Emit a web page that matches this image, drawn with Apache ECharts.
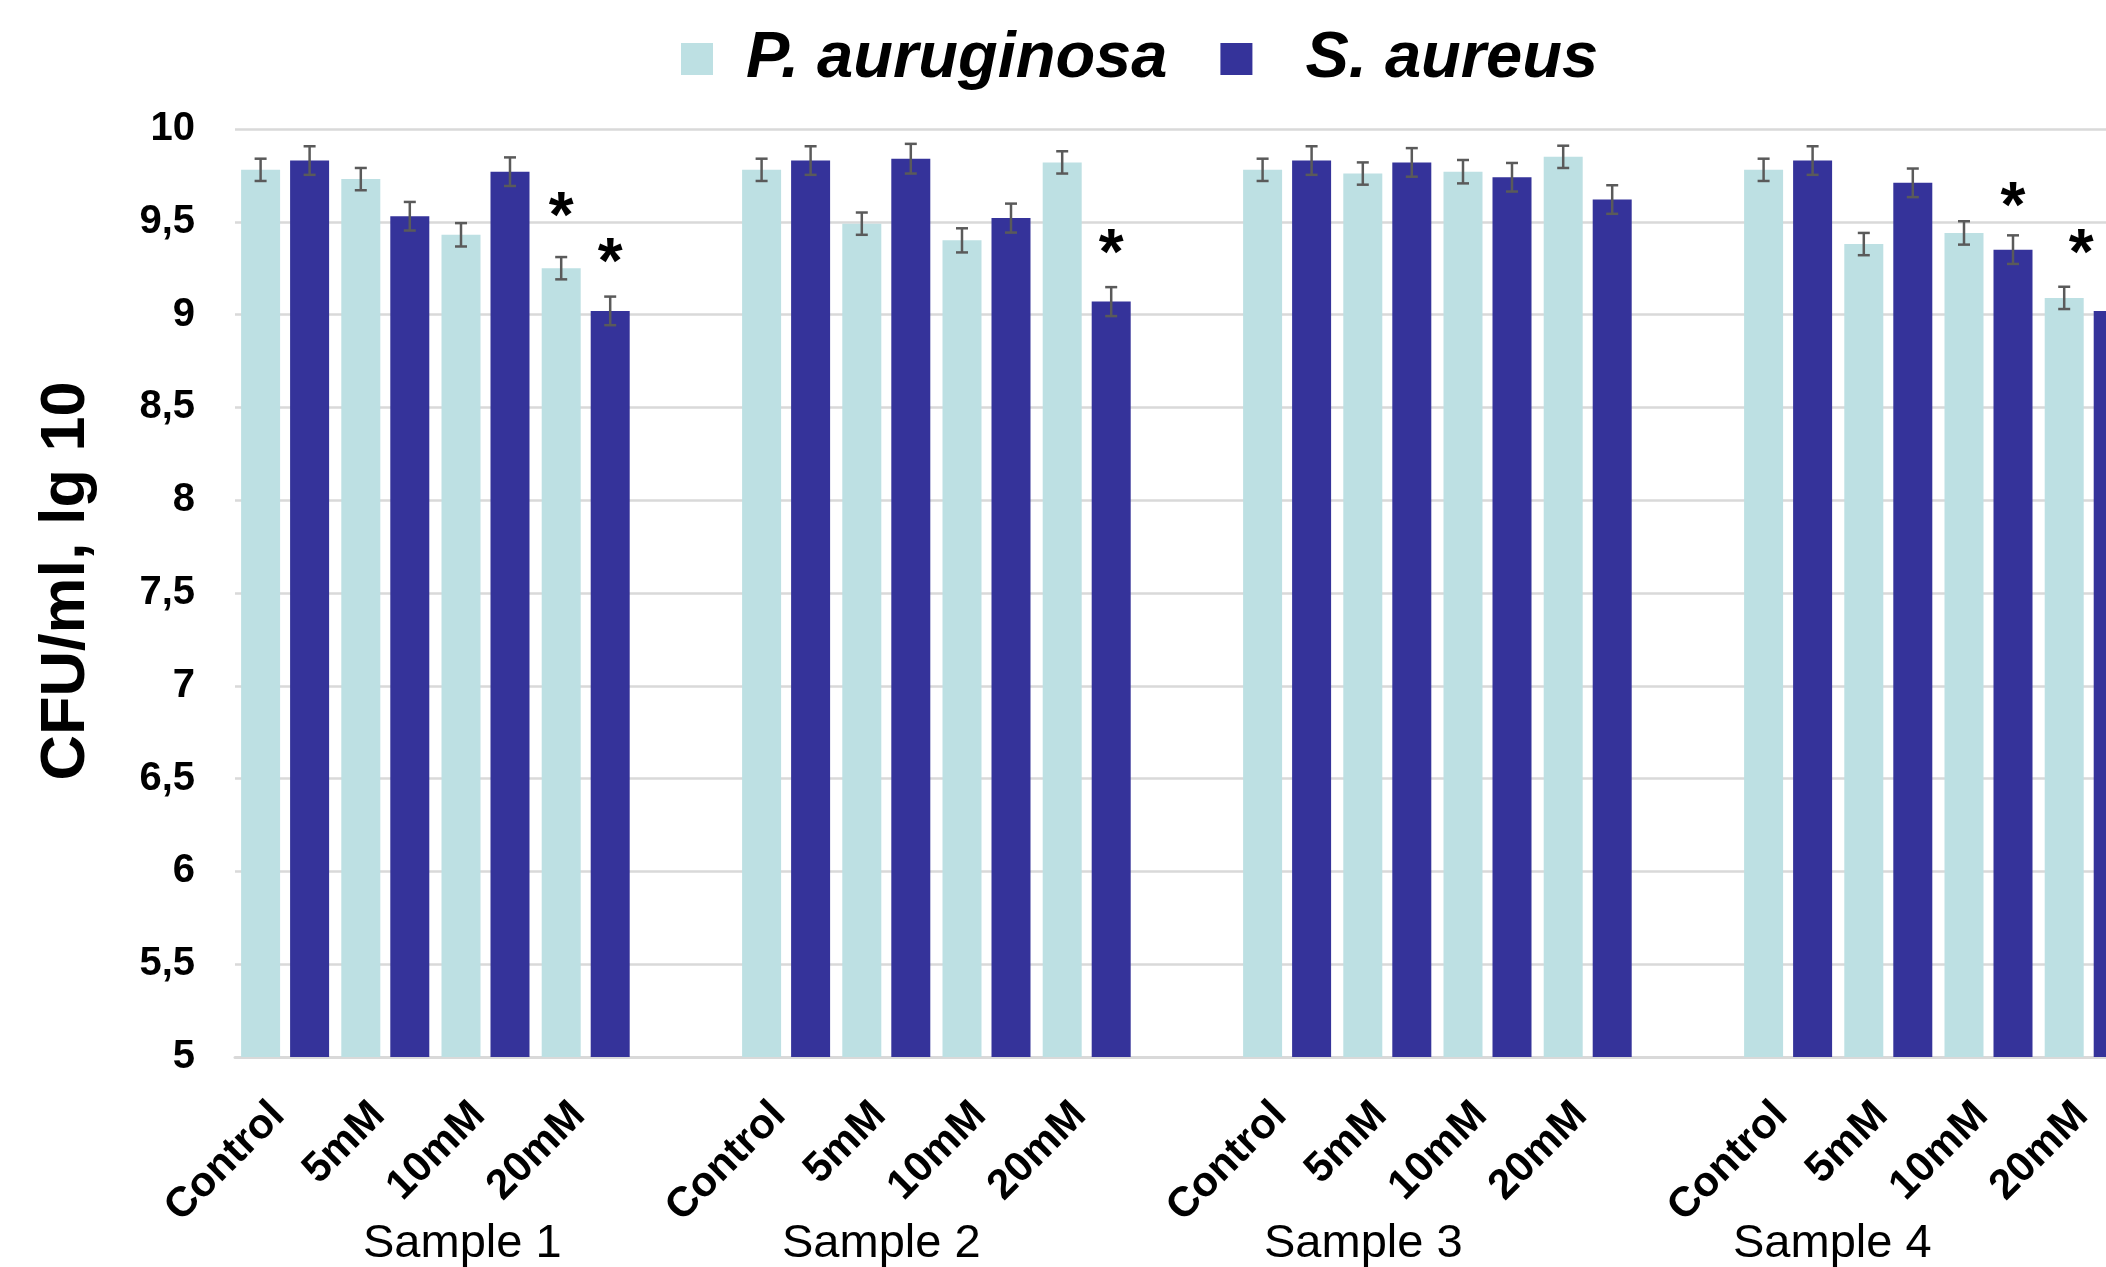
<!DOCTYPE html>
<html>
<head>
<meta charset="utf-8">
<script src="https://cdn.jsdelivr.net/npm/echarts@6/dist/echarts.min.js"></script>
<style>
html,body{margin:0;padding:0;background:#fff;overflow:hidden;}
#chart{width:2106px;height:1267px;}
</style>
</head>
<body>
<div id="chart"></div>
<script>
// ---- data ----
const CATEGORIES = ['Control','5mM','10mM','20mM','', 'Control','5mM','10mM','20mM','', 'Control','5mM','10mM','20mM','', 'Control','5mM','10mM','20mM',''];
const SAMPLES = ['Sample 1','Sample 2','Sample 3','Sample 4'];
const SERIES_NAMES = ['P. auruginosa','S. aureus'];
const P_VALUES = [9.78, 9.73, 9.43, 9.25, '-', 9.78, 9.49, 9.40, 9.82, '-', 9.78, 9.76, 9.77, 9.85, '-', 9.78, 9.38, 9.44, 9.09, '-'];
const S_VALUES = [9.83, 9.53, 9.77, 9.02, '-', 9.83, 9.84, 9.52, 9.07, '-', 9.83, 9.82, 9.74, 9.62, '-', 9.83, 9.71, 9.35, 9.02, '-'];
const P_ERR = [0.06, 0.06, 0.063, 0.06, null, 0.06, 0.06, 0.065, 0.06, null, 0.06, 0.06, 0.063, 0.06, null, 0.06, 0.06, 0.063, 0.06, null];
const S_ERR = [0.077, 0.077, 0.077, 0.077, null, 0.077, 0.08, 0.078, 0.078, null, 0.077, 0.077, 0.077, 0.077, null, 0.077, 0.077, 0.077, 0.077, null];
// significance marks: [category index, series (0=P,1=S), value position]
const STARS = [[3, 0, 9.59], [3, 1, 9.34], [8, 1, 9.39], [17, 1, 9.64], [18, 1, 9.39]];
const Y_TICKS = [5, 5.5, 6, 6.5, 7, 7.5, 8, 8.5, 9, 9.5, 10];

// ---- style ----
const COLORS = ['#bde0e3', '#35339a'];
const FONT = '"Liberation Sans", Arial, Helvetica, sans-serif';
const BAR_W = 39, BAR_GAP = 10;
const OFFSETS = [-(BAR_W + BAR_GAP) / 2, (BAR_W + BAR_GAP) / 2];
const STAR_NUDGE = { 4: -32 }; // pixel nudge of the last (hand-placed) star

function errData(vals, errs) {
  const out = [];
  vals.forEach((v, i) => { if (v !== '-' && errs[i] != null) out.push([i, v - errs[i], v + errs[i]]); });
  return out;
}

function errRender(offset) {
  return function (params, api) {
    const i = api.value(0);
    const lo = api.coord([i, api.value(1)]);
    const hi = api.coord([i, api.value(2)]);
    const x = lo[0] + offset;
    const cap = 6;
    const st = { stroke: '#5a5a5a', lineWidth: 2.5 };
    return {
      type: 'group',
      children: [
        { type: 'line', shape: { x1: x, y1: lo[1], x2: x, y2: hi[1] }, style: st },
        { type: 'line', shape: { x1: x - cap, y1: lo[1], x2: x + cap, y2: lo[1] }, style: st },
        { type: 'line', shape: { x1: x - cap, y1: hi[1], x2: x + cap, y2: hi[1] }, style: st }
      ]
    };
  };
}

const chart = echarts.init(document.getElementById('chart'), null, { renderer: 'canvas' });

const sampleCenters = [463, 882, 1364, 1833];
const legendText = { fontFamily: FONT, fontSize: 65, fontWeight: 'bold', fontStyle: 'italic', color: '#000', lineHeight: 72 };

chart.setOption({
  backgroundColor: '#fff',
  animation: false,
  textStyle: { fontFamily: FONT },
  legend: {
    data: [
      { name: SERIES_NAMES[0], textStyle: Object.assign({}, legendText, { padding: [0, 0, 0, 28] }) },
      { name: SERIES_NAMES[1], textStyle: Object.assign({}, legendText, { padding: [0, 0, 0, 48] }) }
    ],
    left: 676,
    top: 18,
    itemWidth: 32,
    itemHeight: 32,
    itemGap: 53,
    icon: 'rect',
    textStyle: legendText
  },
  grid: { left: 235, top: 129, width: 2004, height: 928, containLabel: false, outerBoundsMode: 'none' },
  xAxis: {
    type: 'category',
    data: CATEGORIES,
    axisLine: { show: true, lineStyle: { color: '#d9d9d9', width: 3 } },
    axisTick: { show: false },
    axisLabel: {
      interval: 0, rotate: 45, margin: 45, padding: [0, 10, 0, 0],
      fontFamily: FONT, fontSize: 42, fontWeight: 'bold', color: '#000'
    },
    splitLine: { show: false }
  },
  yAxis: {
    type: 'value',
    min: 5, max: 10, interval: 0.5,
    name: 'CFU/ml, lg 10',
    nameLocation: 'middle',
    nameGap: 137,
    nameTextStyle: { fontFamily: FONT, fontSize: 63, fontWeight: 'bold', color: '#000', padding: [0, 0, 0, 24] },
    axisLine: { show: false },
    axisTick: { show: false },
    axisLabel: {
      margin: 40, fontFamily: FONT, fontSize: 40, fontWeight: 'bold', color: '#000',
      formatter: v => String(v).replace('.', ',')
    },
    splitLine: { show: true, lineStyle: { color: '#d9d9d9', width: 2.5 } }
  },
  series: [
    { name: SERIES_NAMES[0], type: 'bar', data: P_VALUES, barWidth: BAR_W, barGap: (BAR_GAP / BAR_W * 100) + '%',
      itemStyle: { color: COLORS[0] }, z: 2 },
    { name: SERIES_NAMES[1], type: 'bar', data: S_VALUES, barWidth: BAR_W, barGap: (BAR_GAP / BAR_W * 100) + '%',
      itemStyle: { color: COLORS[1] }, z: 2 },
    { type: 'custom', name: 'errP', data: errData(P_VALUES, P_ERR), renderItem: errRender(OFFSETS[0]), z: 5, silent: true },
    { type: 'custom', name: 'errS', data: errData(S_VALUES, S_ERR), renderItem: errRender(OFFSETS[1]), z: 5, silent: true },
    { type: 'custom', name: 'stars', data: STARS, z: 6, silent: true,
      renderItem: function (params, api) {
        const p = api.coord([api.value(0), api.value(2)]);
        const nudge = STAR_NUDGE[params.dataIndex] || 0;
        return {
          type: 'text',
          style: {
            x: p[0] + OFFSETS[api.value(1)] + nudge, y: p[1] + 14, text: '*',
            fill: '#000', font: 'bold 64px ' + FONT, textAlign: 'center', textVerticalAlign: 'middle'
          }
        };
      } }
  ],
  graphic: SAMPLES.map((s, i) => ({
    type: 'text',
    left: sampleCenters[i] - 100,
    top: 1221,
    style: { text: s, fill: '#000', font: '47px ' + FONT, width: 200, textAlign: 'left' }
  }))
});
</script>
</body>
</html>
